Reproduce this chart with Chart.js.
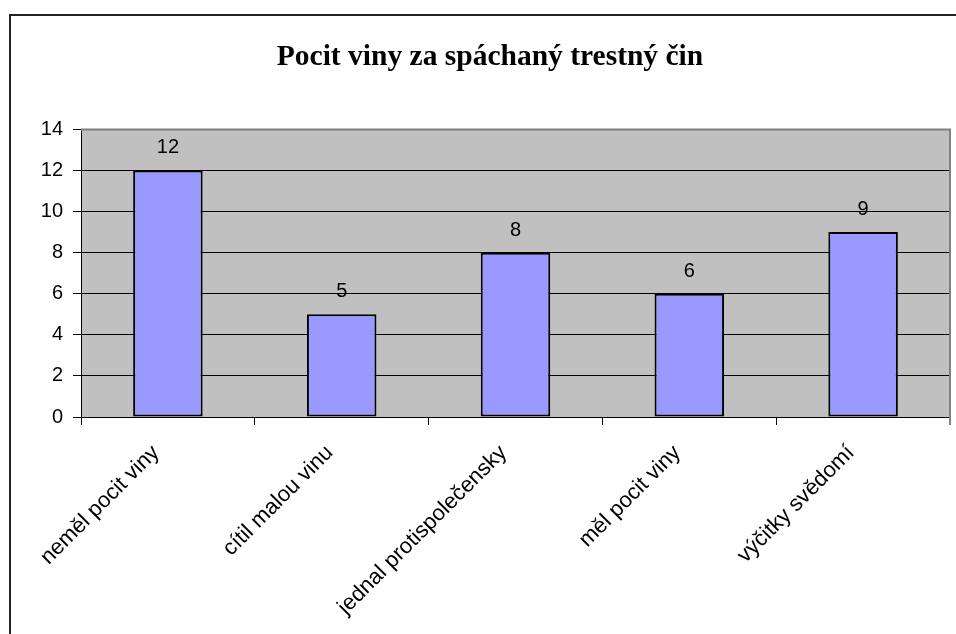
<!DOCTYPE html>
<html>
<head>
<meta charset="utf-8">
<script src="https://cdn.jsdelivr.net/npm/chart.js@4"></script>
<style>
  html, body { margin: 0; padding: 0; background: #fff; }
  #wrap { position: relative; width: 956px; height: 634px; }
</style>
</head>
<body>
<div id="wrap"><canvas id="chart" width="956" height="634"></canvas></div>
<script>
// data
const categories = ['neměl pocit viny', 'cítil malou vinu', 'jednal protispolečensky', 'měl pocit viny', 'výčitky svědomí'];
const counts = [12, 5, 8, 6, 9];
const yTicks = [0, 2, 4, 6, 8, 10, 12, 14];
const chartTitle = 'Pocit viny za spáchaný trestný čin';

/* =========================
   PLUGINS
========================= */

// frame + grey plot background
const frameplugin = {
  id: 'frame',
  beforeDraw(chart) {
    const c = chart.ctx;
    const a = chart.chartArea;
    c.save();
    // outer chart border (only top and left visible)
    c.strokeStyle = '#222';
    c.lineWidth = 2;
    c.beginPath();
    c.moveTo(10, 634);
    c.lineTo(10, 15);
    c.lineTo(956, 15);
    c.stroke();
    // plot area
    c.fillStyle = '#C0C0C0';
    c.fillRect(a.left, a.top, a.right - a.left, a.bottom - a.top);
    c.restore();
  },
  afterDatasetsDraw(chart) {
    const c = chart.ctx;
    const a = chart.chartArea;
    c.save();
    c.strokeStyle = '#808080';
    c.lineWidth = 2;
    c.beginPath();
    c.moveTo(a.left, a.top);
    c.lineTo(a.right, a.top);
    c.lineTo(a.right, a.bottom + 8);
    c.stroke();
    c.restore();
  }
};

// value labels above the bars
const valueLabels = {
  id: 'valueLabels',
  afterDatasetsDraw(chart) {
    const c = chart.ctx;
    const meta = chart.getDatasetMeta(0);
    c.save();
    c.font = '20px "Liberation Sans", Arial, sans-serif';
    c.fillStyle = '#000';
    c.textAlign = 'center';
    c.textBaseline = 'alphabetic';
    meta.data.forEach((bar, i) => {
      c.fillText(String(counts[i]), bar.x, bar.y - 17);
    });
    c.restore();
  }
};

/* =========================
   MAIN CHART
========================= */

Chart.defaults.font.family = '"Liberation Sans", Arial, sans-serif';
Chart.defaults.color = '#000';

new Chart(document.getElementById('chart').getContext('2d'), {
  type: 'bar',
  data: {
    labels: categories,
    datasets: [{
      data: counts,
      backgroundColor: '#9999FF',
      borderColor: '#000',
      borderWidth: 2,
      borderSkipped: false,
      categoryPercentage: 1,
      barPercentage: 0.4
    }]
  },
  options: {
    responsive: false,
    animation: false,
    layout: {
      padding: { left: 30, right: 6, top: 20, bottom: 0 }
    },
    scales: {
      x: {
        offset: true,
        grid: {
          offset: true,
          drawOnChartArea: false,
          color: '#000',
          tickLength: 8
        },
        border: { color: '#000', width: 1 },
        ticks: {
          minRotation: 45,
          maxRotation: 45,
          padding: 15,
          labelOffset: -12,
          font: { size: 22 }
        },
        afterFit(scale) { scale.height = 217; }
      },
      y: {
        min: 0,
        max: 14,
        afterBuildTicks(scale) {
          scale.ticks = yTicks.map(v => ({ value: v }));
        },
        grid: {
          color: ctx => (ctx.tick && ctx.tick.value === 14 ? 'rgba(0,0,0,0)' : '#000'),
          tickColor: '#000',
          tickLength: 8,
          lineWidth: 1
        },
        border: { color: '#000', width: 1 },
        ticks: {
          padding: 10,
          font: { size: 20 }
        },
        afterFit(scale) { scale.width = 51; }
      }
    },
    plugins: {
      legend: { display: false },
      tooltip: { enabled: false },
      title: {
        display: true,
        text: chartTitle,
        color: '#000',
        font: { family: '"Liberation Serif", "Times New Roman", serif', size: 29.5, weight: 'bold', lineHeight: 1.2 },
        padding: { top: 20, bottom: 54 }
      }
    }
  },
  plugins: [frameplugin, valueLabels]
});
</script>
</body>
</html>
